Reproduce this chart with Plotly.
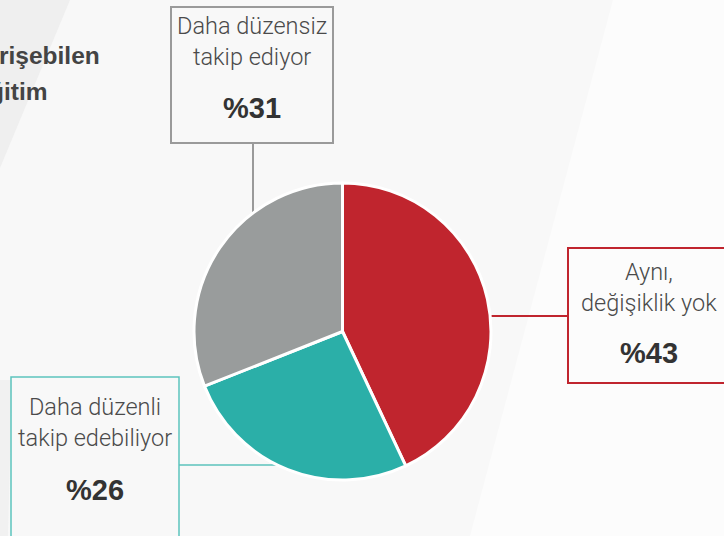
import plotly.graph_objects as go

W, H = 724, 536

# Data
categories = ["Aynı, değişiklik yok", "Daha düzenli takip edebiliyor", "Daha düzensiz takip ediyor"]
values = [43, 26, 31]
colors = ["#c0252e", "#2bafa8", "#999c9c"]
box_labels = ["Aynı,<br>değişiklik yok", "Daha düzenli<br>takip edebiliyor", "Daha düzensiz<br>takip ediyor"]
pct_labels = ["%43", "%26", "%31"]
heading_lines = ["rişebilen", "ğitim"]


def px(x):
    return x / W


def py(y):
    return 1 - y / H


cx, cy, r = 342.5, 331.5, 148.5

fig = go.Figure()
fig.add_trace(go.Pie(
    labels=categories, values=values, sort=False, direction="clockwise", rotation=0,
    marker=dict(colors=colors, line=dict(color="white", width=3)),
    textinfo="none", hoverinfo="label+percent", showlegend=False,
    domain=dict(x=[px(cx - r), px(cx + r)], y=[py(cy + r), py(cy - r)]),
))

shapes = []
# background diagonal tones
shapes.append(dict(type="path", xref="paper", yref="paper", layer="below",
                   path=f"M {px(0)},{py(0)} L {px(70)},{py(0)} L {px(0)},{py(168)} Z",
                   fillcolor="#efefef", line=dict(width=0)))
shapes.append(dict(type="path", xref="paper", yref="paper", layer="below",
                   path=f"M {px(613)},{py(0)} L {px(724)},{py(0)} L {px(724)},{py(536)} L {px(470)},{py(536)} Z",
                   fillcolor="#fcfcfc", line=dict(width=0)))
shapes.append(dict(type="path", xref="paper", yref="paper", layer="below",
                   path=f"M {px(0)},{py(380)} L {px(12)},{py(380)} L {px(8)},{py(536)} L {px(0)},{py(536)} Z",
                   fillcolor="#f1f1f1", line=dict(width=0)))

# connectors
shapes.append(dict(type="line", xref="paper", yref="paper", layer="below",
                   x0=px(253), x1=px(253), y0=py(143), y1=py(260), line=dict(color="#9a9a9a", width=2)))
shapes.append(dict(type="line", xref="paper", yref="paper", layer="below",
                   x0=px(440), x1=px(568), y0=py(316), y1=py(316), line=dict(color="#c0252e", width=2)))
shapes.append(dict(type="line", xref="paper", yref="paper", layer="below",
                   x0=px(179), x1=px(300), y0=py(465), y1=py(465), line=dict(color="#5cc3bd", width=1.5)))
# boxes
shapes.append(dict(type="rect", xref="paper", yref="paper", layer="below",
                   x0=px(171), x1=px(333), y0=py(143), y1=py(7), line=dict(color="#9a9a9a", width=2)))
shapes.append(dict(type="rect", xref="paper", yref="paper", layer="below",
                   x0=px(568), x1=px(730), y0=py(383), y1=py(248), line=dict(color="#c0252e", width=2)))
shapes.append(dict(type="rect", xref="paper", yref="paper", layer="below",
                   x0=px(11), x1=px(179), y0=py(545), y1=py(377), line=dict(color="#5cc3bd", width=1.5)))

lab_font = dict(family="Roboto, Liberation Sans, sans-serif", size=23.5, color="#4a4a4a", weight=300)
pct_font = dict(family="Liberation Sans, Arial, sans-serif", size=29, color="#333333", weight="bold")
head_font = dict(family="Liberation Sans, Arial, sans-serif", size=24.5, color="#444444", weight="bold")

ann = []
label_pos = [(649, 287, 353), (95, 422, 490), (252, 41, 108)]
for (x, ly, pyy), lab, pct in zip(label_pos, box_labels, pct_labels):
    ann.append(dict(x=px(x), y=py(ly), xref="paper", yref="paper", text=lab, showarrow=False,
                    xanchor="center", yanchor="middle", align="center", font=lab_font))
    ann.append(dict(x=px(x), y=py(pyy), xref="paper", yref="paper", text=pct, showarrow=False,
                    xanchor="center", yanchor="middle", font=pct_font))
ann.append(dict(x=px(102), y=py(55), xref="paper", yref="paper", text=heading_lines[0], showarrow=False,
                xanchor="right", yanchor="middle", font=head_font))
ann.append(dict(x=px(50), y=py(92), xref="paper", yref="paper", text=heading_lines[1], showarrow=False,
                xanchor="right", yanchor="middle", font=head_font))

fig.update_layout(
    width=W, height=H, margin=dict(l=0, r=0, t=0, b=0),
    paper_bgcolor="#f8f8f8", plot_bgcolor="#f8f8f8",
    shapes=shapes, annotations=ann,
)

fig.write_html("out.html", config={"displayModeBar": False},
               post_script="document.body.style.margin='0';document.body.style.overflow='hidden';")
